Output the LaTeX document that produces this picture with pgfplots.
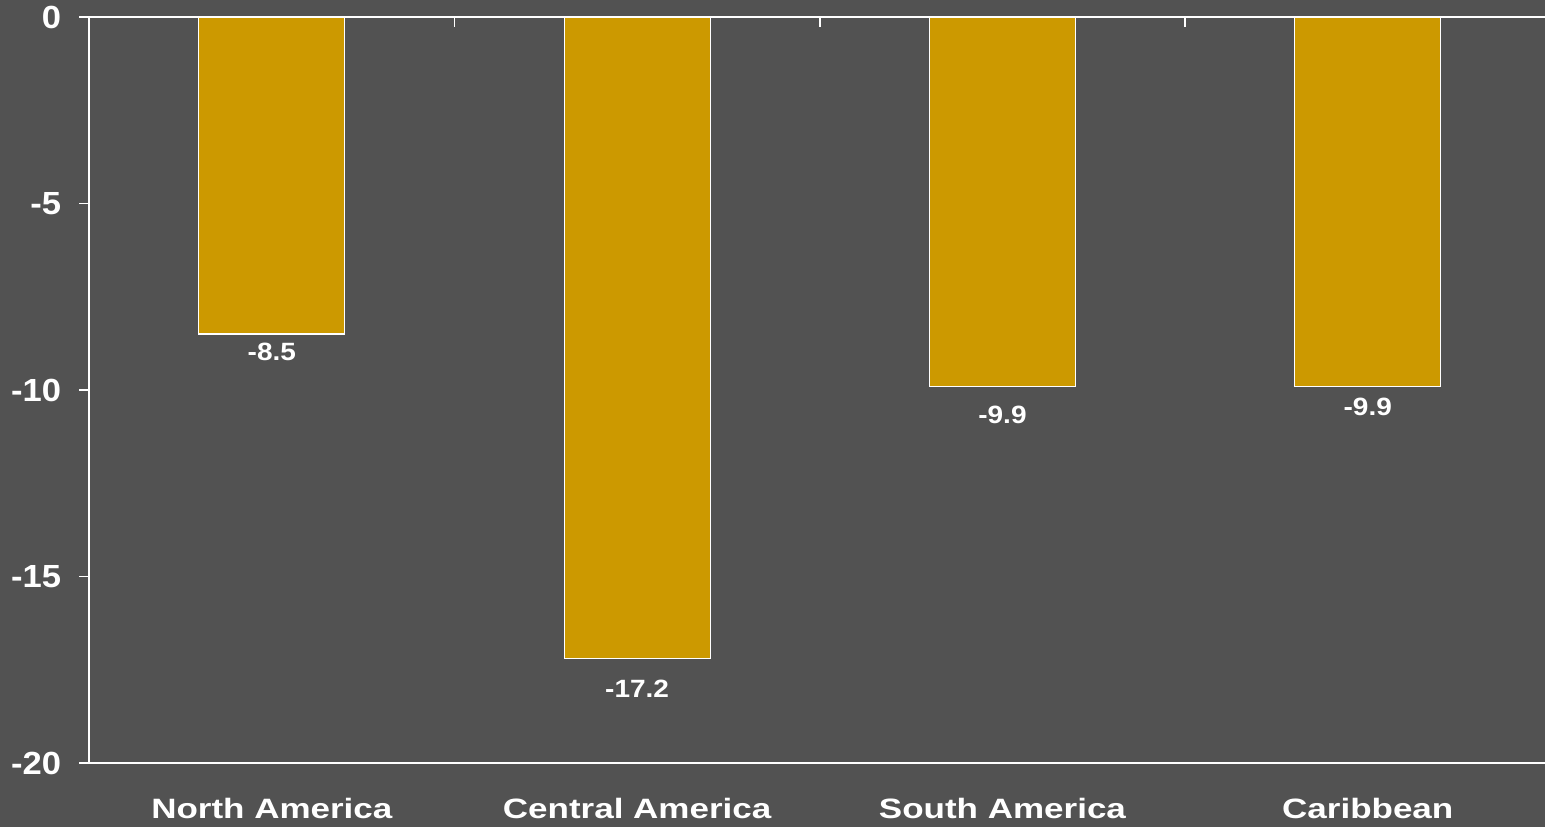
\documentclass[border=0pt]{standalone}
\usepackage{pgfplots}
\pgfplotsset{compat=1.18}
\usepackage{pgfplotstable}
\usepackage{fontspec}
\setmainfont{Liberation Sans}
\newfontfamily\tickfont{Liberation Sans}[FakeStretch=1.08]
\newfontfamily\catfont{Liberation Sans}[FakeStretch=1.25]
\newfontfamily\valfont{Liberation Sans}[FakeStretch=1.12]
\definecolor{bg}{HTML}{525252}
\definecolor{gold}{HTML}{CC9900}

\pgfplotstableread{
x y off lab
0 -8.5 9 -8.5
1 -17.2 15 -17.2
2 -9.9 14.5 -9.9
3 -9.9 10.5 -9.9
}\datatable

\begin{document}
\begin{tikzpicture}
\fill[bg] (0,0) rectangle (772.5pt,413.5pt);
\path[use as bounding box] (0,0) rectangle (772.5pt,413.5pt);
\begin{axis}[
  at={(44.6pt,32pt)}, anchor=south west,
  scale only axis, width=730.6pt, height=373pt,
  xmin=-0.5, xmax=3.5, ymin=-20, ymax=0,
  axis x line*=box, axis y line*=left,
  axis line style={white, line width=0.75pt},
  xtick={0.5,1.5,2.5}, xticklabels={}, xtick pos=right, xtick align=inside,
  ytick={-20,-15,-10,-5,0}, yticklabels={-20,-15,-10,-5,0},
  ytick pos=left, ytick align=outside,
  major tick length=5pt,
  tick style={white, line width=0.75pt},
  yticklabel style={font=\tickfont\bfseries\fontsize{16}{16}\selectfont, text=white, xshift=-5.5pt},
  clip=false,
]
\addplot[ybar, bar width=73pt, fill=gold, draw=white, line width=0.6pt,
  point meta=explicit symbolic,
  visualization depends on={\thisrow{off}\as\off},
  nodes near coords,
  every node near coord/.append style={anchor=center, yshift=-\off pt, text=white,
     font=\valfont\bfseries\fontsize{12.5}{12.5}\selectfont},
] table[x=x, y=y, meta=lab] {\datatable};

\node[text=white, font=\catfont\bfseries\fontsize{14}{14}\selectfont, yshift=-22.5pt] at (axis cs:0,-20) {North America};
\node[text=white, font=\catfont\bfseries\fontsize{14}{14}\selectfont, yshift=-22.5pt] at (axis cs:1,-20) {Central America};
\node[text=white, font=\catfont\bfseries\fontsize{14}{14}\selectfont, yshift=-22.5pt] at (axis cs:2,-20) {South America};
\node[text=white, font=\catfont\bfseries\fontsize{14}{14}\selectfont, yshift=-22.5pt] at (axis cs:3,-20) {Caribbean};
\end{axis}
\end{tikzpicture}
\end{document}
